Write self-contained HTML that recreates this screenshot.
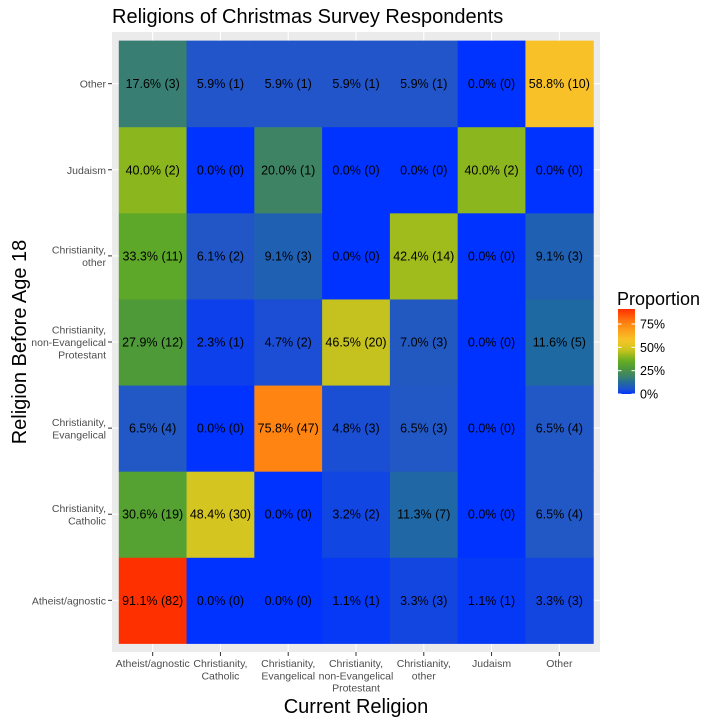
<!DOCTYPE html>
<html><head><meta charset="utf-8"><style>
body{margin:0;background:#fff;}
svg text{font-family:"Liberation Sans",Arial,sans-serif;}
</style></head><body>
<svg id="c" width="720" height="720" xmlns="http://www.w3.org/2000/svg">
<defs><linearGradient id="lg" x1="0" y1="1" x2="0" y2="0"></linearGradient></defs>
<text x="112" y="23" font-size="20" fill="#000">Religions of Christmas Survey Respondents</text>
<rect x="112" y="32" width="488" height="620" fill="#ebebeb"/>
<g id="grid"></g><g id="tiles"></g><g id="labels"></g><g id="axes"></g>
<text x="356" y="713" font-size="20" text-anchor="middle">Current Religion</text>
<text transform="translate(26,342) rotate(-90)" font-size="20" text-anchor="middle">Religion Before Age 18</text>
<g id="legend">
<text x="617" y="305" font-size="18">Proportion</text>
<rect x="618" y="309" width="17" height="85" fill="url(#lg)"/>
</g>
</svg>
<script>
const xCats=["Atheist/agnostic","Christianity,\nCatholic","Christianity,\nEvangelical","Christianity,\nnon-Evangelical\nProtestant","Christianity,\nother","Judaism","Other"];
const yCats=["Atheist/agnostic","Christianity,\nCatholic","Christianity,\nEvangelical","Christianity,\nnon-Evangelical\nProtestant","Christianity,\nother","Judaism","Other"];
// rows by yCats (bottom to top), columns by xCats
const pct=[
[91.1,0.0,0.0,1.1,3.3,1.1,3.3],
[30.6,48.4,0.0,3.2,11.3,0.0,6.5],
[6.5,0.0,75.8,4.8,6.5,0.0,6.5],
[27.9,2.3,4.7,46.5,7.0,0.0,11.6],
[33.3,6.1,9.1,0.0,42.4,0.0,9.1],
[40.0,0.0,20.0,0.0,0.0,40.0,0.0],
[17.6,5.9,5.9,5.9,5.9,0.0,58.8]];
const counts=[
[82,0,0,1,3,1,3],
[19,30,0,2,7,0,4],
[4,0,47,3,3,0,4],
[12,1,2,20,3,0,5],
[11,2,3,0,14,0,3],
[2,0,1,0,0,2,0],
[3,1,1,1,1,0,10]];
const legendTicks=[0,25,50,75];
const maxV=91.1;
const stops=[[0,"#0033ff"],[6,"#2256c8"],[12,"#1f6aa0"],[18,"#3a7f6f"],[28,"#4e9a38"],[35,"#62ac24"],[42,"#9cba1c"],[48,"#d2c520"],[58,"#f8c428"],[76,"#ff8312"],[91.1,"#ff3000"]];
const NS="http://www.w3.org/2000/svg";
function hx(h){return [1,3,5].map(i=>parseInt(h.substr(i,2),16));}
function col(v){for(let i=1;i<stops.length;i++){if(v<=stops[i][0]){const a=stops[i-1],b=stops[i];const t=(v-a[0])/(b[0]-a[0]);const c1=hx(a[1]),c2=hx(b[1]);return "rgb("+c1.map((c,k)=>Math.round(c+(c2[k]-c)*t)).join(",")+")";}}return stops[stops.length-1][1];}
const px0=112,pw=488,py0=32,ph=620;
const ux=pw/7.2,uy=ph/7.2;
function xs(i){return px0+ux*(i+0.6);} // center
function ys(j){return py0+ph-uy*(j+0.6);}
function mk(t,a,p){const e=document.createElementNS(NS,t);for(const k in a)e.setAttribute(k,a[k]);p.appendChild(e);return e;}
const G=document.getElementById("grid"),T=document.getElementById("tiles"),L=document.getElementById("labels"),A=document.getElementById("axes");
xCats.forEach((c,i)=>{const l=mk("line",{x1:xs(i),x2:xs(i),y1:py0,y2:py0+ph,stroke:"#fff","stroke-width":1.1},G);

});
yCats.forEach((c,j)=>{const l=mk("line",{x1:px0,x2:px0+pw,y1:ys(j),y2:ys(j),stroke:"#fff","stroke-width":1.1},G);

});
for(let j=0;j<7;j++)for(let i=0;i<7;i++){
const v=pct[j][i];
const r=mk("rect",{x:xs(i)-ux/2,y:ys(j)-uy/2,width:ux+0.5,height:uy+0.5,fill:col(v)},T);


const t=mk("text",{x:xs(i),y:ys(j)+4.5,"font-size":12.5,"text-anchor":"middle",fill:"#000"},L);
t.textContent=v.toFixed(1)+"% ("+counts[j][i]+")";

}
xCats.forEach((c,i)=>{const l=mk("line",{x1:xs(i),x2:xs(i),y1:652,y2:656,stroke:"#333"},A);


const t=mk("text",{"font-size":10.5,"text-anchor":"middle",fill:"#4d4d4d"},A);


c.split("\n").forEach((s,k)=>{const ts=mk("tspan",{x:xs(i),y:667+k*12.3},t);ts.textContent=s;});});
yCats.forEach((c,j)=>{const l=mk("line",{x1:108,x2:112,y1:ys(j),y2:ys(j),stroke:"#333"},A);


const lines=c.split("\n");
const t=mk("text",{"font-size":10.5,"text-anchor":"end",fill:"#4d4d4d"},A);


lines.forEach((s,k)=>{const ts=mk("tspan",{x:106,y:ys(j)+4-(lines.length-1)*6.15+k*12.3},t);ts.textContent=s;});});
const lg=document.getElementById("lg");
for(let k=0;k<=20;k++){const v=maxV*k/20;mk("stop",{offset:(k/20),"stop-color":col(v)},lg);}
const LG=document.getElementById("legend");
function ly(v){return 394-v/maxV*85;}
legendTicks.forEach(v=>{
const a=mk("line",{x1:618,x2:621.5,y1:ly(v),y2:ly(v),stroke:"#fff"},LG);


const b=mk("line",{x1:631.5,x2:635,y1:ly(v),y2:ly(v),stroke:"#fff"},LG);


const t=mk("text",{x:640,y:ly(v)+4.5,"font-size":12.5,fill:"#000"},LG);t.textContent=v+"%";

});
</script>
</body></html>
